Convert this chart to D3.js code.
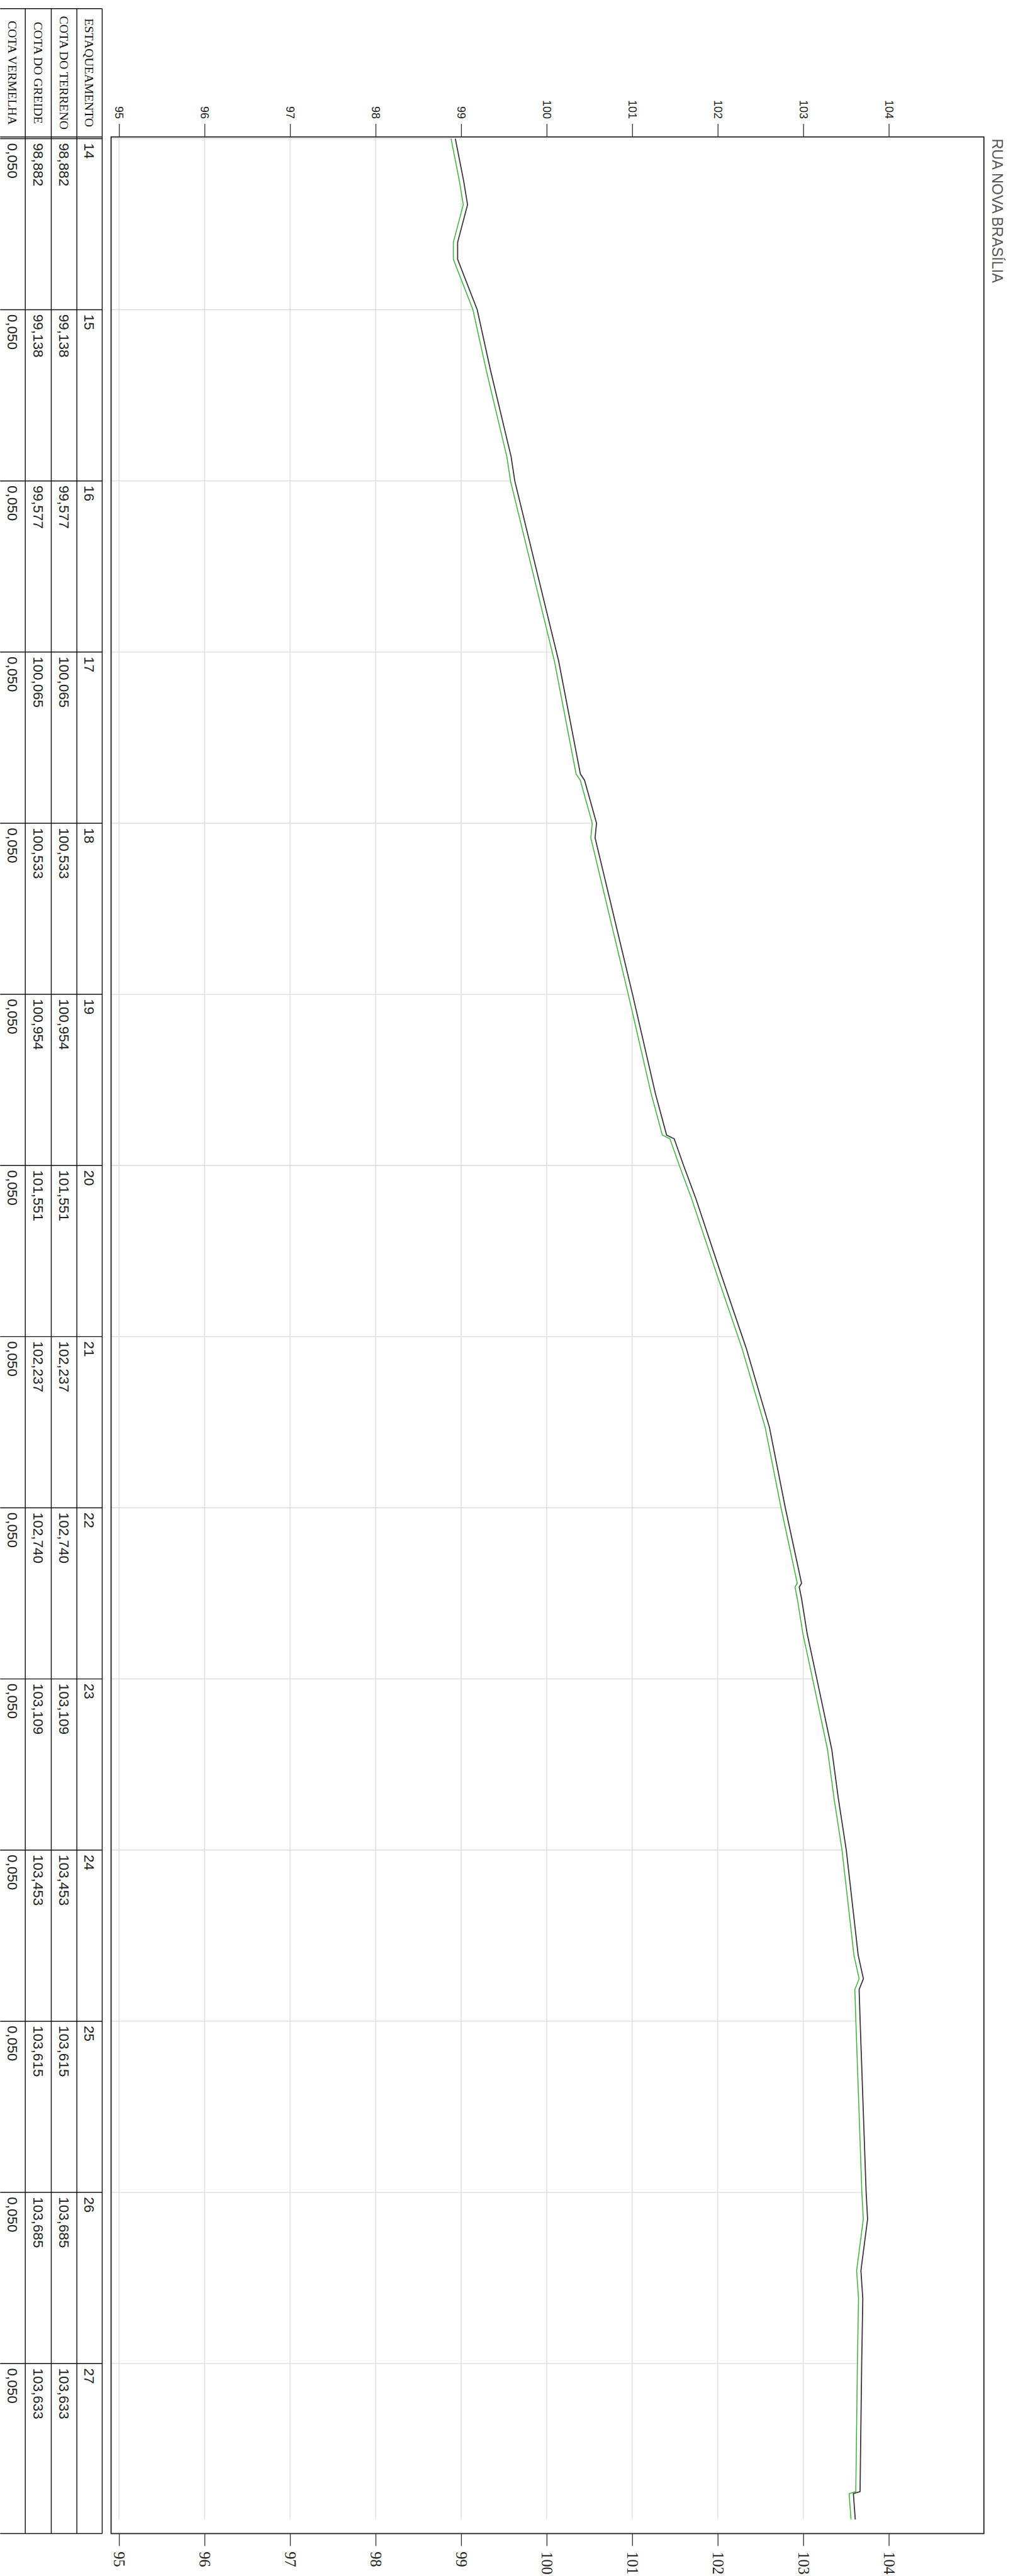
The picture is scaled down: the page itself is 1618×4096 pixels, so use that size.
<!DOCTYPE html>
<html><head><meta charset="utf-8">
<script src="https://cdn.jsdelivr.net/npm/d3@7"></script>
<style>html,body{margin:0;padding:0;background:#fff;} svg{display:block;background:#fff;}</style>
</head><body>
<svg id="chart"></svg>
<script>
// ---------- DATA ----------
const title = "RUA NOVA BRASÍLIA";
const headers = ["COTA VERMELHA", "COTA DO GREIDE", "COTA DO TERRENO", "ESTAQUEAMENTO"];
const estacas = [14, 15, 16, 17, 18, 19, 20, 21, 22, 23, 24, 25, 26, 27];
const cotaTerreno = [98.882, 99.138, 99.577, 100.065, 100.533, 100.954, 101.551, 102.237, 102.740, 103.109, 103.453, 103.615, 103.685, 103.633];
const cotaGreide  = [98.882, 99.138, 99.577, 100.065, 100.533, 100.954, 101.551, 102.237, 102.740, 103.109, 103.453, 103.615, 103.685, 103.633];
const cotaVermelha = [0.050, 0.050, 0.050, 0.050, 0.050, 0.050, 0.050, 0.050, 0.050, 0.050, 0.050, 0.050, 0.050, 0.050];
const elevTicks = [95, 96, 97, 98, 99, 100, 101, 102, 103, 104];

// profile vertices (station units)
const profileEstacas = [14.000, 14.249, 14.386, 14.606, 14.705, 15.000, 15.357, 15.860, 16.000, 17.052,
  17.712, 17.749, 18.000, 18.085, 19.000, 19.577, 19.822, 19.844, 20.000, 20.193,
  20.640, 21.000, 21.070, 21.531, 22.000, 22.441, 22.463, 22.530, 22.736, 23.000,
  23.411, 23.698, 24.000, 24.613, 24.752, 24.814, 25.000, 26.000, 26.156, 26.457,
  26.620, 27.000, 27.748, 27.760, 27.911];
// green line
const greideProfile = [98.882, 98.980, 99.025, 98.909, 98.909, 99.138, 99.295, 99.535, 99.577, 100.090,
  100.344, 100.393, 100.533, 100.516, 100.954, 101.220, 101.352, 101.441, 101.551, 101.694,
  101.992, 102.237, 102.285, 102.555, 102.740, 102.930, 102.903, 102.930, 102.996, 103.109,
  103.283, 103.360, 103.453, 103.592, 103.653, 103.603, 103.615, 103.685, 103.702, 103.624,
  103.646, 103.633, 103.614, 103.536, 103.558];
// dark line
const terrenoProfile = [98.932, 99.030, 99.075, 98.959, 98.959, 99.188, 99.345, 99.585, 99.627, 100.140,
  100.394, 100.443, 100.583, 100.566, 101.004, 101.270, 101.402, 101.491, 101.601, 101.744,
  102.042, 102.287, 102.335, 102.605, 102.790, 102.980, 102.953, 102.980, 103.046, 103.159,
  103.333, 103.410, 103.503, 103.642, 103.703, 103.653, 103.665, 103.735, 103.752, 103.674,
  103.696, 103.683, 103.664, 103.586, 103.608];

// ---------- LAYOUT ----------
const W = 1798, H = 4553;
const frame = {left: 196, right: 1738, top: 242, bottom: 4478};
const table = {top: 15.3, cols: [0, 44.4, 90.3, 135.5, 180.3]};
const sans = "'Liberation Sans', Arial, Helvetica, sans-serif";
const serif = "'Liberation Serif', 'Times New Roman', serif";

const svg = d3.select("#chart")
  .attr("width", 1618).attr("height", 4096)
  .attr("viewBox", `0 0 ${W} ${H}`);

svg.append("rect").attr("width", W).attr("height", H).attr("fill", "#fff");

const x = d3.scaleLinear().domain([95, 104]).range([210, 1570]);
const y = d3.scaleLinear().domain([14, 28]).range([245, 4480]);

const greidePts = profileEstacas.map((s, i) => ({s, v: greideProfile[i]}));
const terrenoPts = profileEstacas.map((s, i) => ({s, v: terrenoProfile[i]}));

// clip: region below the grade line
const defs = svg.append("defs");
const area = d3.area().y(d => y(d.s)).x0(frame.left).x1(d => x(d.v));
const cp = defs.append("clipPath").attr("id", "under");
cp.append("path").attr("d", area(greidePts));
cp.append("rect").attr("x", frame.left).attr("y", frame.top)
  .attr("width", x(greidePts[0].v) - frame.left).attr("height", y(14) - frame.top + 1);

// grid
const grid = svg.append("g").attr("clip-path", "url(#under)");
grid.selectAll("line.v").data(elevTicks).join("line").attr("class", "v")
  .attr("x1", d => x(d)).attr("x2", d => x(d))
  .attr("y1", frame.top).attr("y2", frame.bottom)
  .attr("stroke", "#e2e2e2").attr("stroke-width", 1.8);
grid.selectAll("line.h").data(estacas).join("line").attr("class", "h")
  .attr("y1", d => y(d)).attr("y2", d => y(d))
  .attr("x1", frame.left).attr("x2", frame.right)
  .attr("stroke", "#dcdcdc").attr("stroke-width", 1.5);

// profile lines
const line = d3.line().x(d => x(d.v)).y(d => y(d.s));
svg.append("path").attr("d", line(greidePts)).attr("fill", "none")
  .attr("stroke", "#3cb43c").attr("stroke-width", 1.7).attr("stroke-linejoin", "miter");
svg.append("path").attr("d", line(terrenoPts)).attr("fill", "none")
  .attr("stroke", "#383838").attr("stroke-width", 2).attr("stroke-linejoin", "miter");

// frame
svg.append("rect").attr("x", frame.left).attr("y", frame.top)
  .attr("width", frame.right - frame.left).attr("height", frame.bottom - frame.top)
  .attr("fill", "none").attr("stroke", "#222").attr("stroke-width", 2);

// top axis
const gTop = svg.append("g").attr("transform", `translate(0,${frame.top})`)
  .call(d3.axisTop(x).tickValues(elevTicks).tickSize(23).tickFormat(d3.format("d")));
gTop.select(".domain").remove();
gTop.selectAll(".tick line").attr("stroke", "#333").attr("stroke-width", 1.5);
gTop.selectAll(".tick text")
  .attr("transform", "rotate(90)").attr("x", -32).attr("y", 0).attr("dy", "0.35em")
  .attr("text-anchor", "end").attr("fill", "#222")
  .style("font-family", sans).style("font-size", "20px");

// bottom axis
const gBot = svg.append("g").attr("transform", `translate(0,${frame.bottom})`)
  .call(d3.axisBottom(x).tickValues(elevTicks).tickSize(22).tickFormat(d3.format("d")));
gBot.select(".domain").remove();
gBot.selectAll(".tick line").attr("stroke", "#333").attr("stroke-width", 1.5);
gBot.selectAll(".tick text")
  .attr("transform", "rotate(90)").attr("x", 32).attr("y", 0).attr("dy", "0.35em")
  .attr("text-anchor", "start").attr("fill", "#222")
  .style("font-family", serif).style("font-size", "27px");

// title
svg.append("text").attr("transform", `translate(1753,245) rotate(90)`)
  .attr("text-anchor", "start").attr("fill", "#555")
  .style("font-family", sans).style("font-size", "26px")
  .text(title);

// ---------- TABLE ----------
const tg = svg.append("g");
const tc = table.cols;
// vertical lines
tg.selectAll("line.tv").data(tc.slice(1)).join("line").attr("class", "tv")
  .attr("x1", d => d).attr("x2", d => d).attr("y1", table.top).attr("y2", frame.bottom)
  .attr("stroke", "#111").attr("stroke-width", 1.6);
// top, header bottom, rows, bottom
const hLines = [table.top, frame.top, frame.bottom];
tg.selectAll("line.th").data(hLines).join("line").attr("class", "th")
  .attr("x1", 0).attr("x2", tc[4]).attr("y1", d => d).attr("y2", d => d)
  .attr("stroke", "#111").attr("stroke-width", 1.6);
tg.selectAll("line.tr").data(estacas).join("line").attr("class", "tr")
  .attr("x1", 0).attr("x2", tc[4]).attr("y1", d => y(d)).attr("y2", d => y(d))
  .attr("stroke", "#111").attr("stroke-width", 1.6);

const colCenter = j => (tc[j] + tc[j + 1]) / 2;
// headers
tg.selectAll("text.hd").data(headers).join("text").attr("class", "hd")
  .attr("transform", (d, j) => `translate(${colCenter(j)},${(table.top + frame.top) / 2}) rotate(90)`)
  .attr("text-anchor", "middle").attr("dy", "0.35em").attr("fill", "#111")
  .style("font-family", serif).style("font-size", "22px")
  .text(d => d);

const br = d3.formatLocale({decimal: ",", thousands: ".", grouping: [3], currency: ["R$", ""]});
const f3 = br.format(".3f");
const colValues = [cotaVermelha.map(f3), cotaGreide.map(f3), cotaTerreno.map(f3), estacas.map(String)];
colValues.forEach((vals, j) => {
  tg.selectAll(`text.c${j}`).data(vals).join("text").attr("class", `c${j}`)
    .attr("transform", (d, i) => `translate(${colCenter(j)},${y(estacas[i]) + 8}) rotate(90)`)
    .attr("text-anchor", "start").attr("dy", "0.35em").attr("fill", "#222")
    .style("font-family", sans).style("font-size", "25px")
    .text(d => d);
});
</script>
</body></html>
